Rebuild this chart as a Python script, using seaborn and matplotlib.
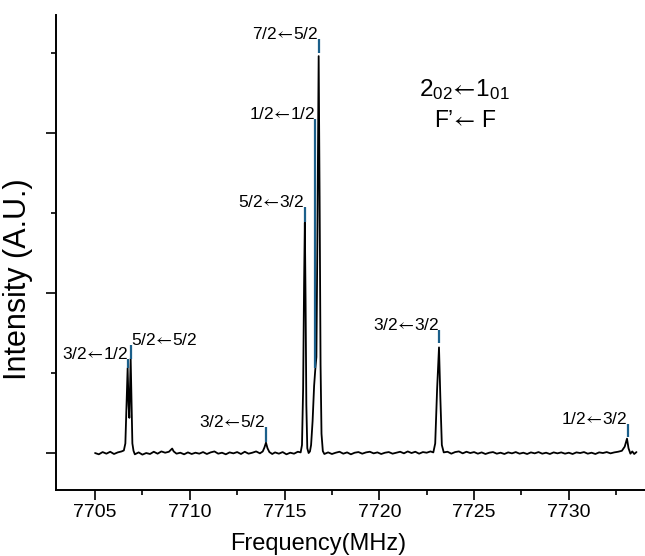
import matplotlib
matplotlib.use("Agg")
import matplotlib.pyplot as plt
import matplotlib.ticker as mticker
import pandas as pd
import seaborn as sns

# spectrum (frequency in MHz, intensity in arbitrary units)
FREQ = [
    7705.00, 7705.20, 7705.40, 7705.60, 7705.80, 7706.00, 7706.20, 7706.40, 7706.52,
    7706.60, 7706.66, 7706.72, 7706.77, 7706.81, 7706.85, 7706.88, 7706.92, 7706.97, 7707.03, 7707.10,
    7707.30, 7707.50, 7707.70, 7707.90, 7708.10, 7708.30, 7708.50, 7708.70, 7708.90, 7709.00, 7709.07,
    7709.15, 7709.30, 7709.50, 7709.70, 7709.90, 7710.10, 7710.30, 7710.50, 7710.70, 7710.90, 7711.10,
    7711.30, 7711.50, 7711.70, 7711.90, 7712.10, 7712.30, 7712.50, 7712.70, 7712.90, 7713.10, 7713.30,
    7713.50, 7713.70, 7713.85, 7713.94, 7714.02, 7714.10, 7714.20, 7714.35, 7714.50, 7714.70, 7714.90,
    7715.10, 7715.30, 7715.50, 7715.70, 7715.85, 7715.92, 7715.98, 7716.03, 7716.07, 7716.11, 7716.15,
    7716.20, 7716.27, 7716.34, 7716.40, 7716.48, 7716.56, 7716.62, 7716.68, 7716.73, 7716.80, 7716.85,
    7716.90, 7716.95, 7717.02, 7717.10, 7717.30, 7717.50, 7717.70, 7717.90, 7718.10, 7718.30, 7718.50,
    7718.70, 7718.90, 7719.10, 7719.30, 7719.50, 7719.70, 7719.90, 7720.10, 7720.30, 7720.50, 7720.70,
    7720.90, 7721.10, 7721.30, 7721.50, 7721.70, 7721.90, 7722.10, 7722.30, 7722.50, 7722.70, 7722.85,
    7722.95, 7723.05, 7723.15, 7723.22, 7723.30, 7723.40, 7723.60, 7723.80, 7724.00, 7724.20, 7724.40,
    7724.60, 7724.80, 7725.00, 7725.20, 7725.40, 7725.60, 7725.80, 7726.00, 7726.20, 7726.40, 7726.60,
    7726.80, 7727.00, 7727.20, 7727.40, 7727.60, 7727.80, 7728.00, 7728.20, 7728.40, 7728.60, 7728.80,
    7729.00, 7729.20, 7729.40, 7729.60, 7729.80, 7730.00, 7730.20, 7730.40, 7730.60, 7730.80, 7731.00,
    7731.20, 7731.40, 7731.60, 7731.80, 7732.00, 7732.20, 7732.40, 7732.60, 7732.80, 7732.95, 7733.07,
    7733.15, 7733.25, 7733.35, 7733.45, 7733.57,
]
INTENSITY = [
    0.000, -0.008, 0.006, -0.004, 0.008, -0.006, 0.004, 0.010, 0.016,
    0.06, 0.30, 0.53, 0.30, 0.22, 0.45, 0.59, 0.35, 0.06, 0.014, -0.008,
    0.004, -0.010, 0.000, -0.006, 0.008, -0.004, 0.010, 0.002, 0.008, 0.020, 0.028,
    0.010, -0.004, 0.002, -0.008, 0.004, -0.006, 0.002, -0.004, 0.006, -0.006, 0.004,
    0.010, -0.004, 0.002, -0.008, 0.004, -0.002, 0.006, -0.006, 0.008, -0.004, 0.002,
    0.010, -0.002, 0.010, 0.035, 0.065, 0.030, 0.006, -0.006, 0.004, -0.004, 0.006,
    -0.008, 0.002, -0.004, 0.008, 0.004, 0.05, 0.40, 1.05, 1.44, 0.95, 0.30,
    0.03, 0.00, 0.01, 0.05, 0.20, 0.42, 0.52, 0.60, 1.30, 2.48, 1.60,
    0.55, 0.12, 0.012, -0.006, 0.004, -0.006, 0.002, 0.008, -0.004, 0.004, -0.008,
    0.002, 0.006, -0.004, 0.004, 0.008, -0.002, 0.004, -0.006, 0.002, 0.006, -0.004,
    0.002, 0.008, -0.002, 0.010, 0.000, 0.008, -0.004, 0.006, 0.002, 0.010, 0.004,
    0.06, 0.40, 0.66, 0.35, 0.05, 0.004, 0.008, -0.004, 0.006, 0.010, -0.002,
    0.008, 0.000, 0.006, -0.004, 0.004, -0.006, 0.002, 0.006, -0.004, 0.002, -0.006,
    0.004, -0.002, 0.006, -0.004, 0.002, -0.006, 0.004, -0.002, 0.006, -0.004, 0.002,
    -0.006, 0.004, -0.002, 0.004, -0.004, 0.002, -0.006, 0.004, 0.000, 0.006, -0.004,
    0.002, -0.006, 0.004, 0.000, 0.006, -0.002, 0.004, 0.008, 0.014, 0.04, 0.09,
    0.03, -0.004, 0.010, -0.006, 0.006,
]

# predicted hyperfine components (blue sticks) and their F'<-F labels
STICK_FREQ = [7706.75, 7706.90, 7714.00, 7716.06, 7716.62, 7716.80, 7723.15, 7733.10]
STICK_LOW = [0.53, 0.59, 0.07, 1.445, 0.53, 2.50, 0.69, 0.10]
STICK_HIGH = [0.59, 0.675, 0.16, 1.54, 2.09, 2.59, 0.77, 0.18]
STICK_LABELS = ["3/2←1/2", "5/2←5/2", "3/2←5/2", "5/2←3/2",
                "1/2←1/2", "7/2←5/2", "3/2←3/2", "1/2←3/2"]

X_MAJOR = [7705, 7710, 7715, 7720, 7725, 7730]
Y_MAJOR = [0, 1, 2]

# long thin arrow as in the original, with the relation spacing taken back out
ARROW = "$\\!\\leftarrow\\!$"


def main() -> None:
    sns.set_style("ticks")
    plt.rcParams["font.family"] = ["Liberation Sans", "DejaVu Sans"]
    plt.rcParams.update({
        "mathtext.fontset": "stixsans",
        "axes.linewidth": 1.4,
        "axes.edgecolor": "black",
        "axes.labelcolor": "black",
        "text.color": "black",
        "xtick.color": "black",
        "ytick.color": "black",
    })

    spec = pd.DataFrame({"freq": FREQ, "intensity": INTENSITY})

    fig = plt.figure(figsize=(6.45, 5.56), dpi=100)
    ax = fig.add_axes([56 / 645, 66 / 556, 589 / 645, 475 / 556])

    sns.lineplot(data=spec, x="freq", y="intensity", ax=ax, color="black",
                 linewidth=1.3, estimator=None, sort=False)

    ax.vlines(STICK_FREQ, STICK_LOW, STICK_HIGH, color="#1b5f8a", linewidth=1.6)
    for f, top, lab in zip(STICK_FREQ, STICK_HIGH, STICK_LABELS):
        ha = "left" if lab == "5/2←5/2" else "right"
        ax.text(f, top, lab.replace("←", ARROW), ha=ha, va="baseline", fontsize=12.5)

    ax.text(0.693, 0.83, "2$\\mathregular{_{02}}$" + ARROW + "1$\\mathregular{_{01}}$",
            transform=ax.transAxes, ha="center", va="baseline", fontsize=17.5)
    ax.text(0.695, 0.765, "F’" + ARROW + " F", transform=ax.transAxes,
            ha="center", va="baseline", fontsize=16.5)

    ax.set_xlim(7702.94, 7734.02)
    ax.set_ylim(-0.231, 2.737)
    ax.set_xticks(X_MAJOR)
    ax.xaxis.set_minor_locator(mticker.MultipleLocator(2.5))
    ax.set_yticks(Y_MAJOR)
    ax.yaxis.set_minor_locator(mticker.MultipleLocator(0.5))
    ax.set_yticklabels([])
    ax.tick_params(which="major", length=7, width=1.2, labelsize=14, pad=3)
    ax.tick_params(which="minor", length=3.5, width=1.2)

    ax.set_xlabel("Frequency(MHz)", fontsize=17)
    ax.set_ylabel("Intensity (A.U.)", fontsize=22)
    ax.xaxis.set_label_coords(0.445, -0.09)
    ax.yaxis.set_label_coords(-0.039, 0.444)
    sns.despine(ax=ax)

    fig.savefig("out.png", dpi=100)
    plt.close(fig)


if __name__ == "__main__":
    main()
